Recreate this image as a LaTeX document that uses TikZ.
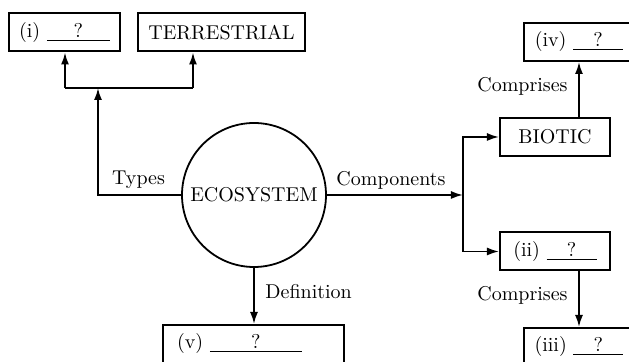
\documentclass[tikz,border=0pt]{standalone}
\usetikzlibrary{arrows.meta}
\begin{document}
\begin{tikzpicture}[x=0.5pt,y=-0.5pt,
  box/.style={draw,line width=1pt,rectangle,inner sep=0pt,minimum height=19pt},
  conn/.style={line width=0.9pt},
  arr/.style={conn,-{Latex[length=6pt,width=4pt]}},
  lbl/.style={inner sep=0pt}]
\useasboundingbox (0,0) rectangle (629,362);
\clip (0,0) rectangle (629,362);
\newcommand{\blank}[1]{\underline{\makebox[#1]{?}}}
% nodes
\node[box,minimum width=55.5pt] (i) at (64.5,32.5) {(i) \blank{31.5pt}};
\node[box,minimum width=83.5pt] (ter) at (221.5,32.5) {TERRESTRIAL};
\node[draw,circle,line width=0.9pt,minimum size=72pt,inner sep=0pt] (eco) at (254,195) {ECOSYSTEM};
\node[box,minimum width=55pt] (bio) at (555,137) {BIOTIC};
\node[box,minimum width=55pt] (iv) at (579,42) {(iv) \blank{25pt}};
\node[box,minimum width=55pt] (ii) at (555,251.5) {(ii) \blank{25pt}};
\node[box,minimum width=55pt] (iii) at (579,347) {(iii) \blank{25pt}};
\node[box,inner xsep=7pt,text width=76.5pt,align=left] (v) at (253.5,344) {(v) \blank{46pt}};
% coordinates
\coordinate (stem) at (98,88);
\coordinate (bl) at (65,88);
\coordinate (br) at (193,88);
\coordinate (split) at (463,195);
% connectors
\draw[arr] (eco.west) -| (stem);
\draw[conn] (bl) -- (br);
\draw[arr] (bl) -- (bl |- i.south);
\draw[arr] (br) -- (br |- ter.south);
\draw[arr] (eco.east) -- (split);
\draw[arr] (split) |- (bio.west);
\draw[arr] (split) |- (ii.west);
\draw[arr] (bio.north -| iv.south) -- (iv.south);
\draw[arr] (ii.south -| iii.north) -- (iii.north);
\draw[arr] (eco.south) -- (eco.south |- v.north);
% labels
\node[lbl] (lt) at (138.5,180) {Types};
\node[lbl] (lc) at (391,180) {Components};
\node[lbl,anchor=west] (ld) at (265,292) {Definition};
\node[lbl] (lc1) at (522.5,86) {Comprises};
\node[lbl] (lc2) at (522.5,295) {Comprises};
\end{tikzpicture}
\end{document}
